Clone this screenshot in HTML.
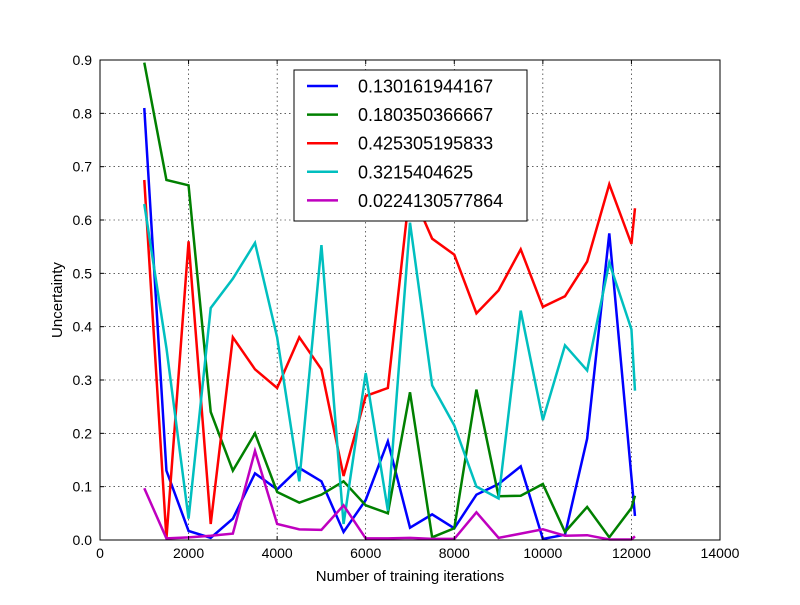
<!DOCTYPE html>
<html><head><meta charset="utf-8"><style>
body{margin:0;background:#fff;}
svg text{font-family:"Liberation Sans",sans-serif;fill:#000;}
</style></head><body>
<svg id="c" width="800" height="600" xmlns="http://www.w3.org/2000/svg">
<rect width="800" height="600" fill="#fff"/>
<g id="grid"></g><g id="series"></g><g id="axes"></g><g id="legend"></g>
</svg>
<script>
const xs = [1000,1500,2000,2500,3000,3500,4000,4500,5000,5500,6000,6500,7000,7500,8000,8500,9000,9500,10000,10500,11000,11500,12000,12080];
const blue = [0.81,0.13,0.017,0.004,0.04,0.125,0.095,0.135,0.11,0.015,0.075,0.185,0.023,0.048,0.022,0.085,0.105,0.138,0.002,0.01,0.19,0.575,0.118,0.045];
const green = [0.895,0.675,0.665,0.24,0.13,0.2,0.09,0.07,0.085,0.11,0.065,0.05,0.277,0.005,0.022,0.282,0.082,0.083,0.105,0.015,0.062,0.005,0.06,0.083];
const red = [0.675,0.003,0.56,0.03,0.38,0.32,0.285,0.38,0.32,0.12,0.27,0.285,0.66,0.565,0.535,0.425,0.468,0.545,0.437,0.457,0.522,0.667,0.555,0.622];
const cyan = [0.63,0.36,0.04,0.435,0.49,0.557,0.38,0.11,0.553,0.03,0.313,0.055,0.595,0.29,0.215,0.1,0.078,0.43,0.225,0.365,0.318,0.52,0.395,0.28];
const magenta = [0.097,0.003,0.005,0.008,0.012,0.167,0.03,0.02,0.019,0.065,0.003,0.003,0.004,0.002,0.002,0.052,0.004,0.012,0.02,0.008,0.009,0.001,0.001,0.007];
const labels = ["0.130161944167","0.180350366667","0.425305195833","0.3215404625","0.0224130577864"];
const xTicks = [0,2000,4000,6000,8000,10000,12000,14000];
const yTicks = [0,0.1,0.2,0.3,0.4,0.5,0.6,0.7,0.8,0.9];

const L=100,R=720,T=60,B=540;
const sx=v=>L+(v-0)/14000*(R-L);
const sy=v=>B-(v/0.9)*(B-T);
const NS="http://www.w3.org/2000/svg";
function mk(tag,attrs,parent){const e=document.createElementNS(NS,tag);for(const k in attrs)e.setAttribute(k,attrs[k]);parent.appendChild(e);return e;}
const grid=document.getElementById('grid'),axes=document.getElementById('axes'),ser=document.getElementById('series'),leg=document.getElementById('legend');

xTicks.forEach(t=>{
  const x=sx(t);
  if(t>0&&t<14000){const g=mk('line',{x1:x,x2:x,y1:T,y2:B,stroke:'#000','stroke-width':0.6,'stroke-dasharray':'1.5,3'},grid);
  
  }
  mk('line',{x1:x,x2:x,y1:B,y2:B-4,stroke:'#000'},axes);
  mk('line',{x1:x,x2:x,y1:T,y2:T+4,stroke:'#000'},axes);
  const tx=mk('text',{x:x,y:B+18,'font-size':14,'text-anchor':'middle'},axes);tx.textContent=t;
  
  
});
yTicks.forEach(t=>{
  const y=sy(t);
  if(t>0&&t<0.9){const g=mk('line',{x1:L,x2:R,y1:y,y2:y,stroke:'#000','stroke-width':0.6,'stroke-dasharray':'1.5,3'},grid);
  
  }
  mk('line',{x1:L,x2:L+4,y1:y,y2:y,stroke:'#000'},axes);
  mk('line',{x1:R,x2:R-4,y1:y,y2:y,stroke:'#000'},axes);
  const tx=mk('text',{x:L-8,y:y+5,'font-size':14,'text-anchor':'end'},axes);tx.textContent=t.toFixed(1);
  
  
});
const frame=mk('rect',{x:L,y:T,width:R-L,height:B-T,fill:'none',stroke:'#000','stroke-width':1},axes);


const xl=mk('text',{x:410,y:581,'font-size':15,'text-anchor':'middle'},axes);xl.textContent='Number of training iterations';


const yl=mk('text',{x:62,y:300,'font-size':15,'text-anchor':'middle',transform:'rotate(-90 62 300)'},axes);yl.textContent='Uncertainty';



const series=[blue,green,red,cyan,magenta];
const colors=['#0000ff','#008000','#ff0000','#00bfbf','#bf00bf'];
const names=['series-blue','series-green','series-red','series-cyan','series-magenta'];
series.forEach((s,i)=>{
  const p=mk('polyline',{points:s.map((v,j)=>sx(xs[j])+','+sy(v)).join(' '),fill:'none',stroke:colors[i],'stroke-width':2.5,'stroke-linejoin':'miter'},ser);
  
  
});

const lb=mk('rect',{x:294,y:70,width:233,height:151,fill:'#fff',stroke:'#000','stroke-width':1},leg);


labels.forEach((t,i)=>{
  const y=86+i*28.6;
  const ln=mk('line',{x1:307,x2:338,y1:y,y2:y,stroke:colors[i],'stroke-width':2.5},leg);
  
  
  const tx=mk('text',{x:358,y:y+6.5,'font-size':18},leg);tx.textContent=t;
  
  
});
</script>
</body></html>
